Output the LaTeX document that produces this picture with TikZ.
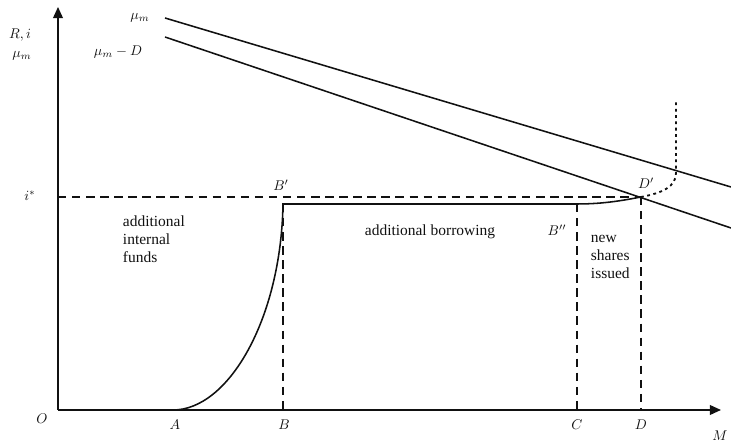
\documentclass[tikz,border=0pt]{standalone}
\usepackage{fontspec}
\setmainfont{Liberation Serif}
\usetikzlibrary{arrows.meta}
\definecolor{ink}{HTML}{111111}

\begin{document}
\begin{tikzpicture}[x=0.025cm,y=0.025cm,text=ink,
 font=\fontsize{11}{13}\selectfont,
 axis/.style={-{Triangle[length=8pt,width=7pt]},draw=ink,line width=1.2pt},
 curve/.style={draw=ink,line width=1.1pt},
 guide/.style={draw=ink,line width=1.1pt,dash pattern=on 6pt off 4pt},
 dots/.style={draw=ink,line width=1.3pt,dash pattern=on 2pt off 2.5pt},
 lab/.style={font=\fontsize{10}{12}\selectfont},
 txt/.style={align=left,font=\fontsize{11}{12.8}\selectfont}]
\path[use as bounding box] (0,0) rectangle (731,445);
\coordinate (O) at (58,35);
\coordinate (ytop) at (58,438);
\coordinate (xend) at (721,35);
\coordinate (A) at (173,35);
\coordinate (B) at (283,35);
\coordinate (C) at (577,35);
\coordinate (D) at (641,35);
\coordinate (istar) at (58,248);
\coordinate (Bp) at (283,241);
\coordinate (Bpp) at (577,241);
\coordinate (Dp) at (641,248);
\coordinate (up1) at (165,427);
\coordinate (up2) at (731,258);
\coordinate (lo1) at (165,408);
\coordinate (lo2) at (731,217);
\coordinate (dtop) at (676,345);
\draw[axis] (O)--(ytop);
\draw[axis] (O)--(xend);
\draw[curve] (up1)--(up2);
\draw[curve] (lo1)--(lo2);
\draw[guide] (istar)--(Dp);
\draw[guide] (Bp)--(B);
\draw[guide] (Bpp)--(C);
\draw[guide] (Dp)--(D);
\draw[curve] (O)--(A) .. controls (228,35) and (281,125) .. (Bp)--(Bpp)
 .. controls (605,241) and (625,245) .. (Dp);
\draw[dots] (Dp) .. controls (662,252) and (676,258) .. (676,272)--(dtop);
\node[lab] (lO) at (42,26) {$O$};
\node[lab] (lA) at (175,20) {$A$};
\node[lab] (lB) at (284,20) {$B$};
\node[lab] (lC) at (577,20) {$C$};
\node[lab] (lD) at (641,20) {$D$};
\node[lab] (lM) at (720,9) {$M$};
\node[lab] (lRi) at (20,410) {$R,i$};
\node[lab] (lmu) at (22,389) {$\mu_m$};
\node[lab] (lis) at (30,249) {$i^*$};
\node[lab] (lum) at (140,427) {$\mu_m$};
\node[lab] (llm) at (118,393) {$\mu_m-D$};
\node[lab] (lBp) at (281,260) {$B'$};
\node[lab] (lBpp) at (557,215) {$B''$};
\node[lab] (lDp) at (646,262) {$D'$};
\node[txt,anchor=north west] (tint) at (118,234) {additional\\internal\\funds};
\node[txt] (tbor) at (430,213) {additional borrowing};
\node[txt,anchor=north west] (tnew) at (586,215) {new\\shares\\issued};
\end{tikzpicture}
\end{document}
